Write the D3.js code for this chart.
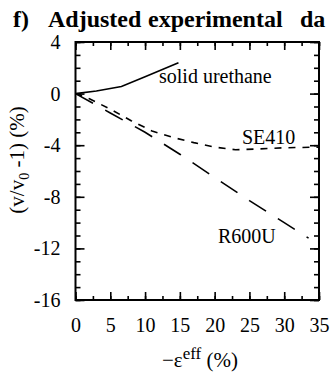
<!DOCTYPE html>
<html><head><meta charset="utf-8">
<script src="https://cdn.jsdelivr.net/npm/d3@7"></script>
</head>
<body style="margin:0;padding:0;background:#fff;overflow:hidden">
<script>
// ---- data ----
const xMajorTicks = [0,5,10,15,20,25,30,35];
const yMajorTicks = [4,0,-4,-8,-12,-16];
const solidUrethane = [[0,0],[3,0.2],[6.6,0.55],[10,1.3],[14.8,2.4]];
const se410 = [[0,0],[2,-0.4],[5,-1.2],[8,-2.1],[11,-2.9],[14,-3.4],[17,-3.8],[20,-4.15],[23,-4.35],[26,-4.3],[30,-4.2],[35,-4.15]];
const r600u = [[0,0],[5,-1.5],[10,-3.0],[15,-4.7],[20,-6.5],[25,-8.3],[30,-10.0],[33.5,-11.2]];
const seriesLabels = ["solid urethane","SE410","R600U"];

const FONT='"Liberation Serif"';
const W=335,H=381;
const svg=d3.select("body").append("svg").attr("width",W).attr("height",H)
  .style("display","block");
const L=75.5,R=319,T=42,B=300;
const x=d3.scaleLinear().domain([0,35]).range([L,R]);
const y=d3.scaleLinear().domain([-16,4]).range([B,T]);

// title (as shown in the reference, cut at the right edge)
const title=svg.append("text").attr("y",27).attr("font-weight","bold").attr("font-size",24).style("font-family",FONT);
title.append("tspan").attr("x",13).text("f)");
title.append("tspan").attr("x",48).text("Adjusted");
title.append("tspan").attr("x",148).text("experimental");
title.append("tspan").attr("x",300).text("da");

const xMinor=d3.range(0,35.01,2.5), yMinor=d3.range(-16,4.01,1);
function styleAxis(g){
  g.attr("font-family",null);
  g.select(".domain").remove();
  g.selectAll(".tick line").attr("stroke","#000").attr("stroke-width",1.6);
  g.selectAll("text").attr("font-size",20).attr("fill","#000").style("font-family",FONT);
}

// bottom
svg.append("g").attr("transform",`translate(0,${B})`).call(d3.axisBottom(x).tickValues(xMinor).tickSize(-4).tickFormat("")).call(styleAxis);
svg.append("g").attr("transform",`translate(0,${B})`).call(d3.axisBottom(x).tickValues(xMajorTicks).tickSize(-8).tickPadding(18).tickFormat(d3.format("d"))).call(styleAxis);
// top
svg.append("g").attr("transform",`translate(0,${T})`).call(d3.axisTop(x).tickValues(xMinor).tickSize(-4).tickFormat("")).call(styleAxis);
svg.append("g").attr("transform",`translate(0,${T})`).call(d3.axisTop(x).tickValues(xMajorTicks).tickSize(-8).tickFormat("")).call(styleAxis);
// left
svg.append("g").attr("transform",`translate(${L},0)`).call(d3.axisLeft(y).tickValues(yMinor).tickSize(-5).tickFormat("")).call(styleAxis);
svg.append("g").attr("transform",`translate(${L},0)`).call(d3.axisLeft(y).tickValues(yMajorTicks).tickSize(-9).tickPadding(15).tickFormat(d=>String(d))).call(styleAxis);
// right
svg.append("g").attr("transform",`translate(${R},0)`).call(d3.axisRight(y).tickValues(yMinor).tickSize(-5).tickFormat("")).call(styleAxis);
svg.append("g").attr("transform",`translate(${R},0)`).call(d3.axisRight(y).tickValues(yMajorTicks).tickSize(-9).tickFormat("")).call(styleAxis);

// frame
svg.append("rect").attr("x",L).attr("y",T).attr("width",R-L).attr("height",B-T).attr("fill","none").attr("stroke","#000").attr("stroke-width",2);

const line=d3.line().x(d=>x(d[0])).y(d=>y(d[1]));
svg.append("path").datum(solidUrethane).attr("d",line).attr("fill","none").attr("stroke","#000").attr("stroke-width",1.6);
svg.append("path").datum(se410).attr("d",line).attr("fill","none").attr("stroke","#000").attr("stroke-width",1.6).attr("stroke-dasharray","7,7");
svg.append("path").datum(r600u).attr("d",line).attr("fill","none").attr("stroke","#000").attr("stroke-width",1.6).attr("stroke-dasharray","20,14");

// series labels
const labPos=[[159,83],[242,144],[218,243]];
seriesLabels.forEach((s,i)=>{
  svg.append("text").attr("x",labPos[i][0]).attr("y",labPos[i][1]).attr("font-size",20).style("font-family",FONT).text(s);
});

// axis titles
const xl=svg.append("text").attr("x",200).attr("y",367).attr("text-anchor","middle").attr("font-size",21).style("font-family",FONT);
xl.append("tspan").text("\u2212\u03b5");
xl.append("tspan").attr("font-size",17).attr("dy",-8).text("eff");
xl.append("tspan").attr("dy",8).text(" (%)");

const yl=svg.append("text").attr("transform","translate(24,160) rotate(-90)").attr("text-anchor","middle").attr("font-size",21).style("font-family",FONT);
yl.append("tspan").text("(v/v");
yl.append("tspan").attr("font-size",14).attr("dy",5).text("0");
yl.append("tspan").attr("dy",-5).text(" -1) (%)");
</script>
</body></html>
